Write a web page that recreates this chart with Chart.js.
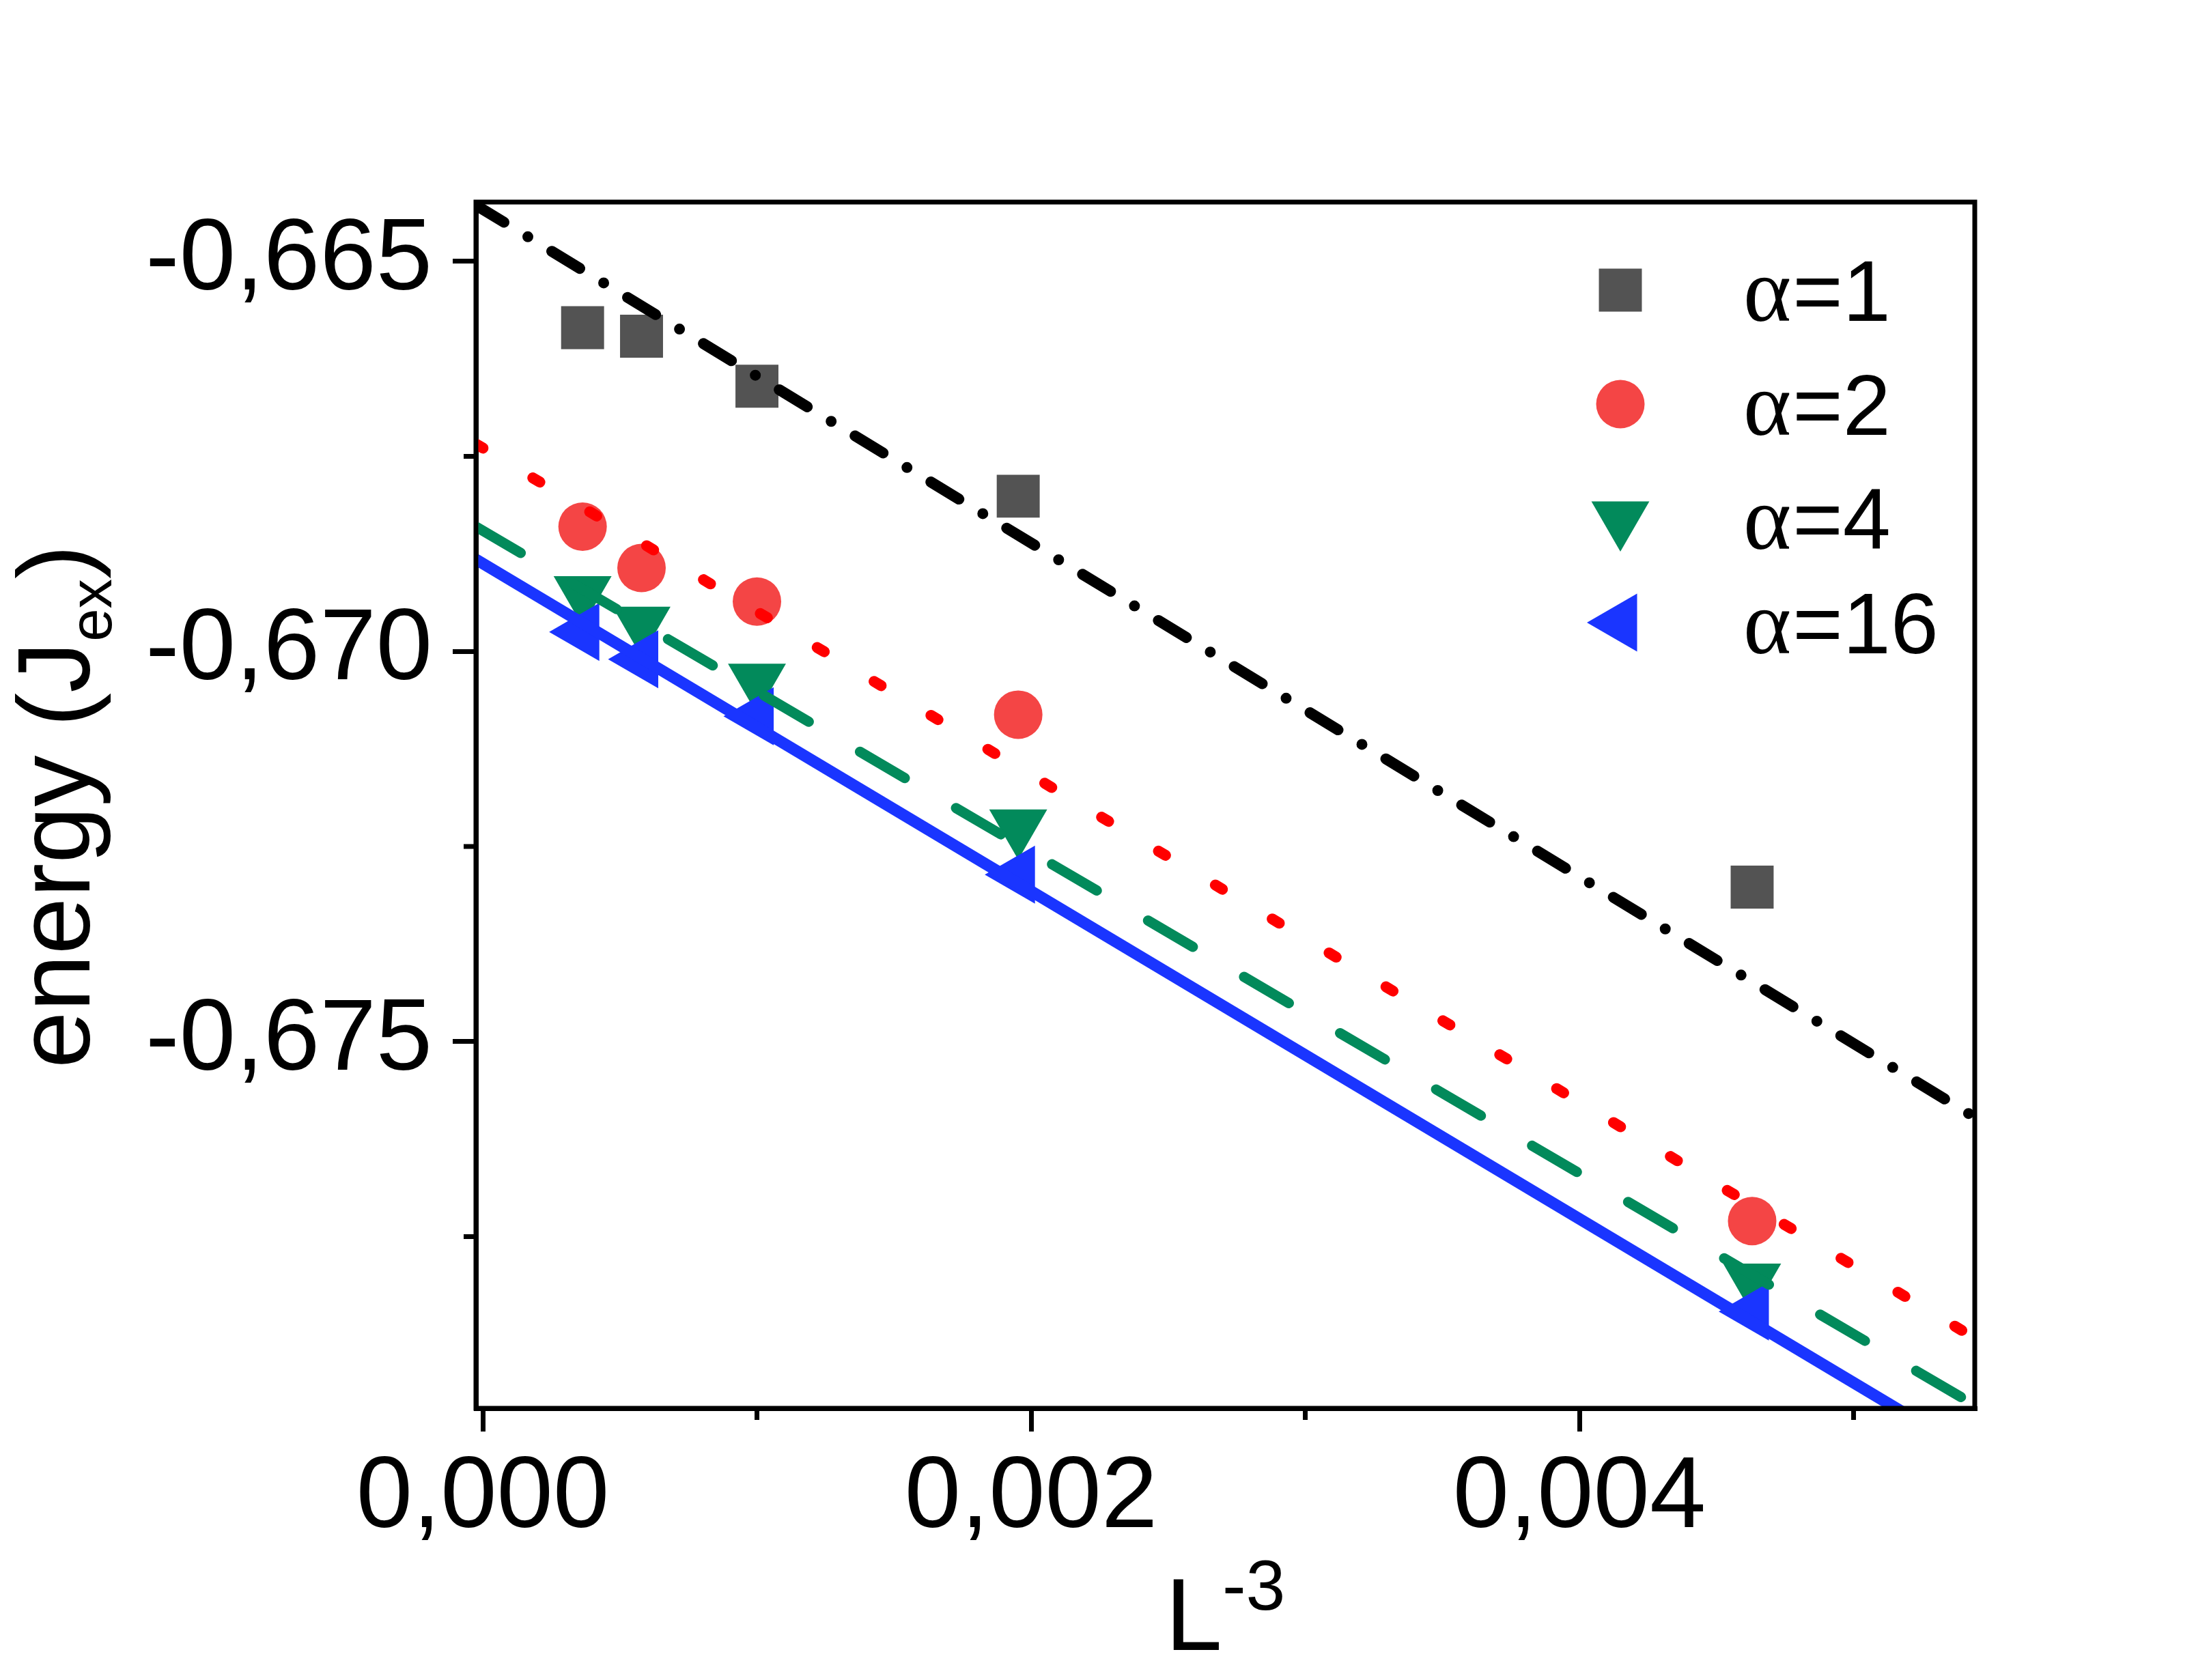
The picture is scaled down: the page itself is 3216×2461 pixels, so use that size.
<!DOCTYPE html>
<html>
<head>
<meta charset="utf-8">
<title>energy vs L^-3</title>
<script src="https://cdn.jsdelivr.net/npm/chart.js"></script>
<style>
  html, body { margin: 0; padding: 0; background: #fff; }
  #wrap { width: 3216px; height: 2461px; position: relative; }
</style>
</head>
<body>
<div id="wrap"><canvas id="myChart"></canvas></div>
<script>
// x = L^-3 for L = 14, 12, 10, 8, 6
const invL3 = [0.000364, 0.000579, 0.001, 0.001953, 0.00463];

// ground state energies (J_ex)
const alpha1 = [-0.66585, -0.66596, -0.6666, -0.66801, -0.67302];
const alpha2 = [-0.6684, -0.66893, -0.66936, -0.67081, -0.6773];
const alpha4 = [-0.66925, -0.66964, -0.67037, -0.67224, -0.67806];
const alpha16 = [-0.66975, -0.6701, -0.67083, -0.67286, -0.67846];

// linear fits, value at both ends of the x range
const fitX = [-0.000025, 0.005442];
const fit1 = [-0.66428, -0.67597];
const fit2 = [-0.66734, -0.6788];
const fit4 = [-0.6684, -0.67966];
const fit16 = [-0.66882, -0.6803];

const seriesLabels = ["1", "2", "4", "16"];

const xMajorTicks = [0, 0.002, 0.004];
const xMinorTicks = [0.001, 0.003, 0.005];
const yMajorTicks = [-0.665, -0.67, -0.675];
const yMinorTicks = [-0.6675, -0.6725, -0.6775];
const xRange = [-0.000025, 0.005442];
const yRange = [-0.6797, -0.66424];

const SANS = '"Liberation Sans", Arial, sans-serif';
const SERIF = '"Liberation Serif", "Times New Roman", serif';

const grey = "#535353";
const salmon = "#f44545";
const green = "#028a5b";
const blue = "#1a35ff";

const markers = [
  { color: grey, style: "rect", radius: 44.5, rotation: 0 },
  { color: salmon, style: "circle", radius: 35.5, rotation: 0 },
  { color: green, style: "triangle", radius: 49, rotation: 180 },
  { color: blue, style: "triangle", radius: 49, rotation: -90 },
];

function toPoints(xs, ys) {
  return xs.map((x, i) => ({ x: x, y: ys[i] }));
}

function markerSet(values, k, order) {
  let m = markers[k];
  return {
    label: "α=" + seriesLabels[k],
    data: toPoints(invL3, values),
    showLine: false,
    pointStyle: m.style,
    pointRotation: m.rotation,
    pointRadius: m.radius,
    pointHoverRadius: m.radius,
    pointBorderWidth: 0,
    backgroundColor: m.color,
    borderColor: m.color,
    order: order,
  };
}

function fitSet(values, color, width, dash, cap, order) {
  return {
    data: toPoints(fitX, values),
    showLine: true,
    pointRadius: 0,
    borderColor: color,
    borderWidth: width,
    borderDash: dash,
    borderCapStyle: cap,
    fill: false,
    tension: 0,
    clip: 0,
    order: order,
  };
}

// frame, minor ticks, axis titles and the inset legend
const decorations = {
  id: "decorations",
  afterDraw(chart) {
    const { ctx, chartArea: a, scales } = chart;
    ctx.save();
    ctx.strokeStyle = "#000";
    ctx.lineWidth = 7;
    ctx.lineCap = "butt";
    ctx.beginPath();
    yMinorTicks.forEach((v) => {
      let py = scales.y.getPixelForValue(v);
      ctx.moveTo(a.left - 18, py);
      ctx.lineTo(a.left, py);
    });
    xMinorTicks.forEach((v) => {
      let px = scales.x.getPixelForValue(v);
      ctx.moveTo(px, a.bottom);
      ctx.lineTo(px, a.bottom + 17);
    });
    ctx.stroke();
    ctx.strokeRect(a.left, a.top, a.right - a.left, a.bottom - a.top);

    ctx.fillStyle = "#000";
    ctx.textBaseline = "alphabetic";
    ctx.textAlign = "left";

    // x title: L^-3
    let cx = (a.left + a.right) / 2;
    ctx.font = "150px " + SANS;
    let wL = ctx.measureText("L").width;
    ctx.font = "104px " + SANS;
    let wS = ctx.measureText("-3").width;
    let x0 = cx - (wL + wS) / 2;
    let base = a.bottom + 354;
    ctx.font = "150px " + SANS;
    ctx.fillText("L", x0, base);
    ctx.font = "104px " + SANS;
    ctx.fillText("-3", x0 + wL, base - 59);

    // y title: energy (J_ex)
    let cy = (a.top + a.bottom) / 2 + 2;
    ctx.save();
    ctx.translate(131, cy);
    ctx.rotate(-Math.PI / 2);
    ctx.font = "150px " + SANS;
    let w1 = ctx.measureText("energy (J").width;
    let w3 = ctx.measureText(")").width;
    ctx.font = "87px " + SANS;
    let w2 = ctx.measureText("ex").width;
    let sx = -(w1 + w2 + w3) / 2;
    ctx.font = "150px " + SANS;
    ctx.fillText("energy (J", sx, 0);
    ctx.fillText(")", sx + w1 + w2, 0);
    ctx.font = "87px " + SANS;
    ctx.fillText("ex", sx + w1, 32);
    ctx.restore();

    // legend inside the plot, top right
    const rowOffsets = [129, 296, 463, 616];
    const mx = a.left + 1676;
    const tx = a.left + 1856;
    markers.forEach((m, i) => {
      let ry = a.top + rowOffsets[i];
      ctx.fillStyle = m.color;
      Chart.helpers.drawPoint(ctx, { pointStyle: m.style, rotation: m.rotation, radius: m.radius, borderWidth: 0 }, mx, ry);
      ctx.fillStyle = "#000";
      ctx.font = "134px " + SERIF;
      ctx.fillText("α", tx, ry + 45);
      let wa = ctx.measureText("α").width;
      ctx.font = "126px " + SANS;
      ctx.fillText("=" + seriesLabels[i], tx + wa + 2, ry + 45);
    });
    ctx.restore();
  },
};

const fmt = (v) => v.toFixed(3).replace(".", ",");

let ctx = document.getElementById("myChart");
let myChart = new Chart(ctx, {
  type: "scatter",
  data: {
    datasets: [
      fitSet(fit16, blue, 17, [], "butt", 0),
      fitSet(fit4, green, 15, [76, 87], "round", 1),
      fitSet(fit2, "#ff0000", 16, [12, 85], "round", 2),
      fitSet(fit1, "#000000", 16, [48, 41, 0, 41], "round", 3),
      markerSet(alpha16, 3, 4),
      markerSet(alpha4, 2, 5),
      markerSet(alpha2, 1, 6),
      markerSet(alpha1, 0, 7),
    ],
  },
  options: {
    responsive: true,
    maintainAspectRatio: false,
    devicePixelRatio: 1,
    animation: false,
    events: [],
    layout: { padding: { left: 0, top: 296, right: 324, bottom: 0 } },
    plugins: { legend: { display: false }, tooltip: { enabled: false } },
    scales: {
      x: {
        type: "linear",
        min: xRange[0],
        max: xRange[1],
        afterBuildTicks: (s) => { s.ticks = xMajorTicks.map((v) => ({ value: v })); },
        afterFit: (s) => { s.height = 398; },
        border: { display: true, color: "#000", width: 7 },
        grid: { drawOnChartArea: false, drawTicks: true, tickLength: 34, tickWidth: 7, tickColor: "#000", lineWidth: 7 },
        ticks: { callback: fmt, color: "#000", font: { family: SANS, size: 148 }, padding: 10, maxRotation: 0, autoSkip: false },
      },
      y: {
        type: "linear",
        min: yRange[0],
        max: yRange[1],
        afterBuildTicks: (s) => { s.ticks = yMajorTicks.map((v) => ({ value: v })); },
        afterFit: (s) => { s.width = 697; },
        border: { display: true, color: "#000", width: 7 },
        grid: { drawOnChartArea: false, drawTicks: true, tickLength: 34, tickWidth: 7, tickColor: "#000", lineWidth: 7 },
        ticks: { callback: fmt, color: "#000", font: { family: SANS, size: 148 }, padding: 30, autoSkip: false },
      },
    },
  },
  plugins: [decorations],
});
</script>
</body>
</html>
